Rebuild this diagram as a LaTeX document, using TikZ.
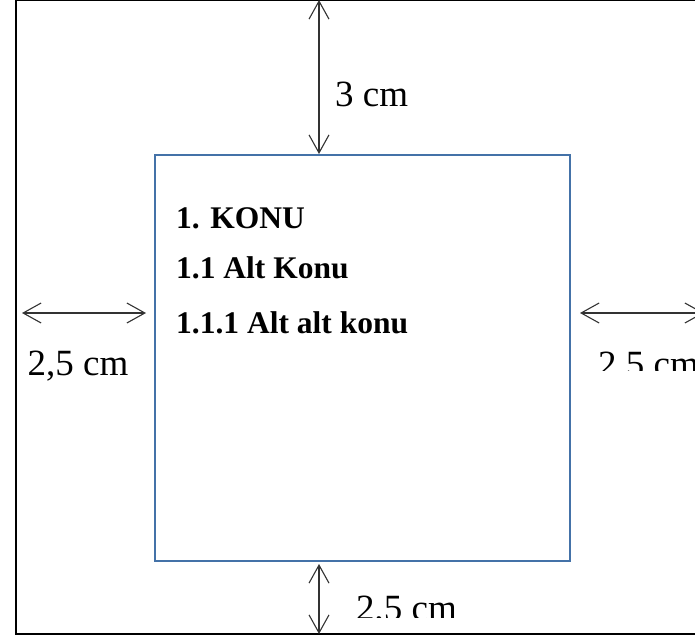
\documentclass[tikz,border=0pt]{standalone}
\usepackage{fontspec}
\setmainfont{Liberation Serif}
\usetikzlibrary{arrows.meta,positioning}

\definecolor{pageblue}{RGB}{68,114,168}

\begin{document}
\begin{tikzpicture}[
    %–––– GLOBAL STYLE TWEAKS ––––
    x=1pt, y=-1pt,                                   % pixel-like units, y downwards
    frame/.style   = {draw=black, line width=2.4pt},
    textarea/.style= {draw=pageblue, line width=2pt, inner sep=0pt,
                      minimum width=415pt, minimum height=406pt},
    dimarrow/.style= {{Straight Barb[length=18pt,width=20pt]}-{Straight Barb[length=18pt,width=20pt]},
                      draw=black!80, line width=1.1pt},
    dimlabel/.style= {font=\fontsize{37}{40}\selectfont, inner sep=0pt},
    heading/.style = {font=\fontsize{31.5}{34}\selectfont\bfseries, inner sep=0pt, anchor=base west},
]
\useasboundingbox (0,0) rectangle (695,639);

%–––– PAGE AND TEXT AREA ––––
\draw[frame] (16,0) rectangle (730,634);
\node (area) [textarea] at (362.5,358) {};

%–––– HEADINGS ––––
\node (konu)    [heading] at (176,228) {1. KONU};
\node (altkonu) [heading] at (176,278) {1.1 Alt Konu};
\node (altalt)  [heading] at (176,333) {1.1.1 Alt alt konu};

%–––– MARGIN END POINTS ––––
\coordinate (topedge)   at (319,0);
\coordinate (leftedge)  at (22,313);
\coordinate (leftin)    at (146,313);
\coordinate (rightin)   at (580,313);
\coordinate (rightedge) at (704,313);
\coordinate (botedge)   at (319,634);

%–––– ARROWS ––––
\draw[dimarrow] (topedge) -- (area.north -| topedge);
\draw[dimarrow] (leftedge) -- (leftin);
\draw[dimarrow] (rightin) -- (rightedge);
\draw[dimarrow] (area.south -| botedge) ++(0,2) -- (botedge);

%–––– MARGIN LABELS ––––
\node (toplabel)  [dimlabel, anchor=base west] at (335,107) {3 cm};
\node (leftlabel) [dimlabel, anchor=base] at (78,375) {2,5 cm};
\begin{scope}
  \clip (585,330) rectangle (695,370);
  \node (rightlabel) [dimlabel, anchor=base west] at (598,376) {2,5 cm};
\end{scope}
\begin{scope}
  \clip (340,580) rectangle (695,617);
  \node (botlabel) [dimlabel, anchor=base west] at (356,620) {2,5 cm};
\end{scope}
\end{tikzpicture}
\end{document}
